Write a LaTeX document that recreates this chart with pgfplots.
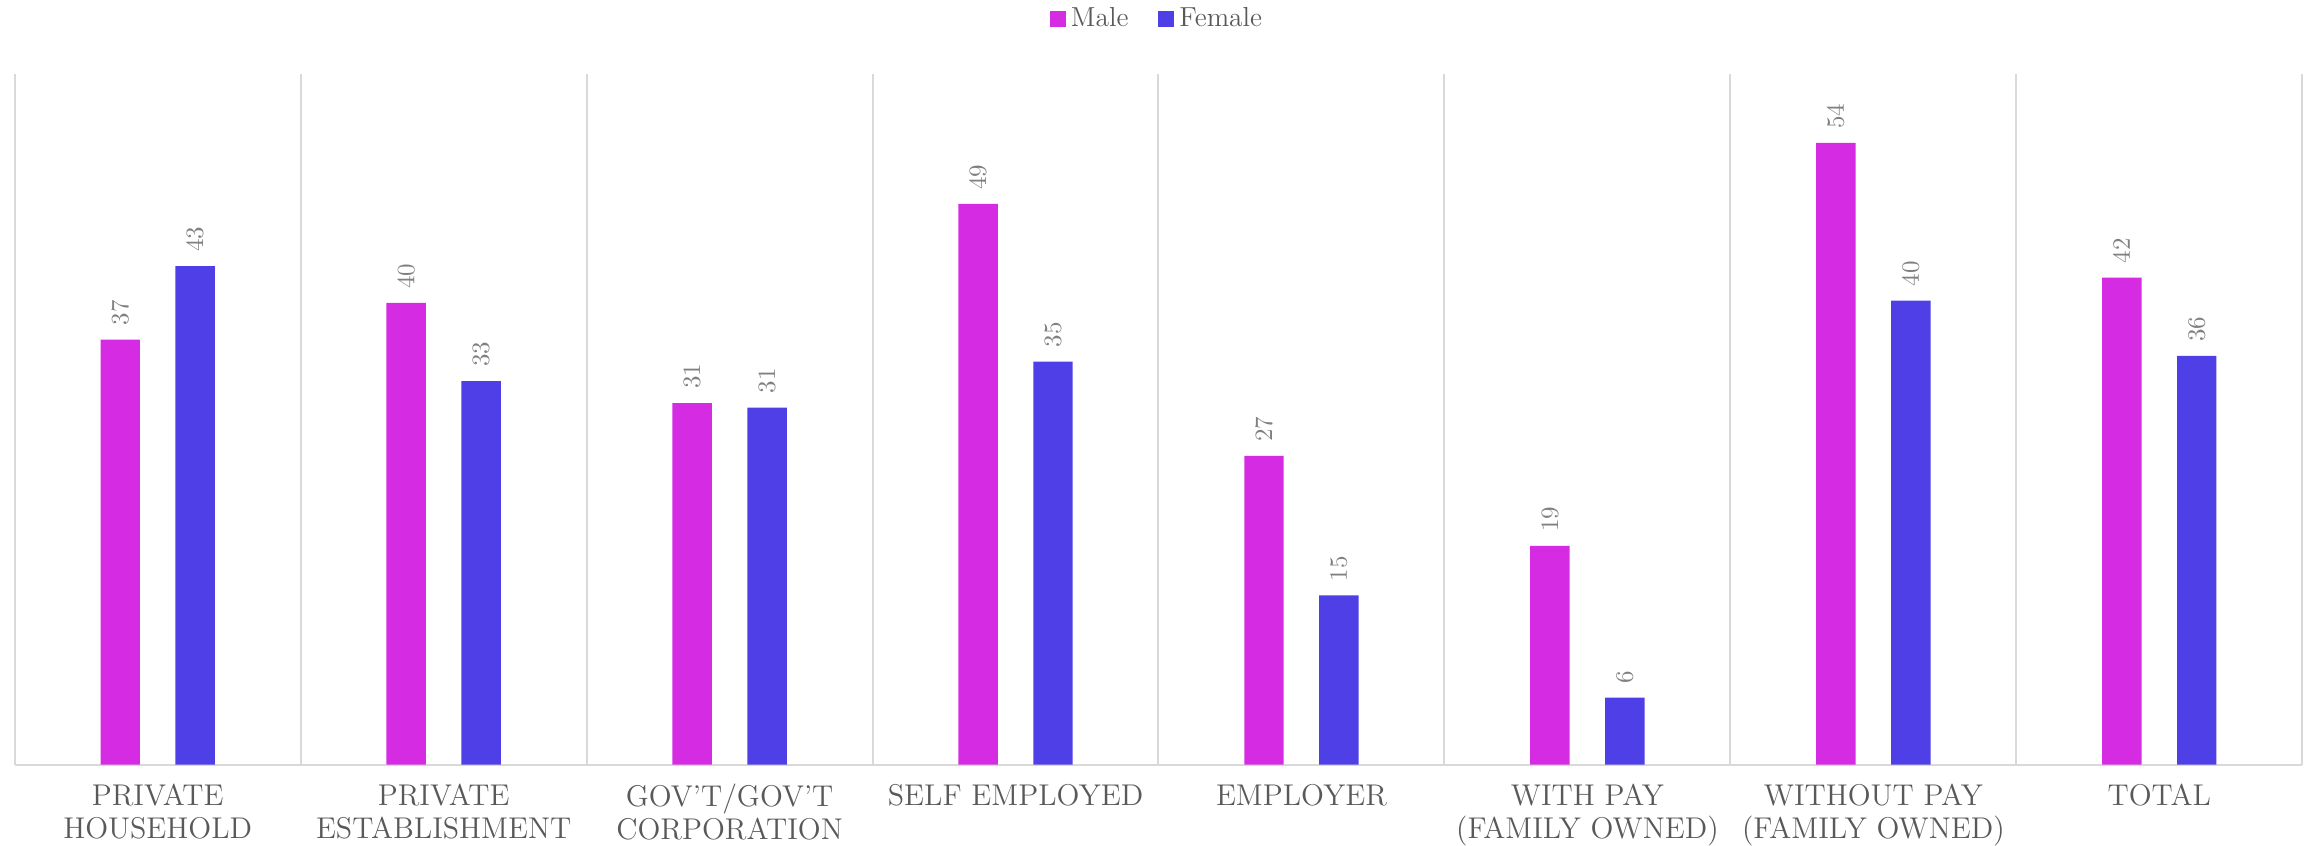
\documentclass[border=0pt]{standalone}
\usepackage{fontspec}
\usepackage{pgfplots}
\pgfplotsset{compat=1.18}
\definecolor{male}{HTML}{D42BE3}
\definecolor{female}{HTML}{4E40E6}
\definecolor{gridc}{HTML}{D9D9D9}
\definecolor{txt}{HTML}{595959}
\definecolor{lbl}{HTML}{808080}
\begin{document}
\begin{tikzpicture}
\useasboundingbox (-5.9pt,-32.2pt) rectangle (918.1pt,305.8pt);
\begin{axis}[
  at={(0,0)}, anchor=south west,
  width=915pt, height=276.3pt, scale only axis,
  ybar, bar width=0.138,
  xmin=-0.5, xmax=7.5, ymin=0, ymax=60,
  xtick={0,...,7},
  xticklabels={PRIVATE\\HOUSEHOLD, PRIVATE\\ESTABLISHMENT, GOV'T/GOV'T\\CORPORATION, SELF EMPLOYED, EMPLOYER, WITH PAY\\(FAMILY OWNED), WITHOUT PAY\\(FAMILY OWNED), TOTAL},
  minor xtick={-0.5,0.5,...,7.5},
  xminorgrids=true,
  minor grid style={draw=gridc, line width=0.8pt},
  major tick length=0pt, minor tick length=0pt,
  ytick=\empty,
  axis y line=none,
  axis x line*=bottom,
  x axis line style={draw=gridc, line width=0.8pt},
  xticklabel style={font=\fontsize{12}{13}\selectfont\addfontfeatures{LetterSpace=4}, text=txt, align=center, anchor=north, yshift=-4.4pt},
  nodes near coords,
  nodes near coords style={rotate=90, anchor=west, inner sep=0pt, inner xsep=5.5pt, font=\fontsize{10}{12}\selectfont, text=lbl, /pgf/number format/fixed, /pgf/number format/precision=0},
  legend style={at={(0.5,1)}, anchor=center, yshift=21.9pt, draw=none, fill=none, legend columns=2, font=\fontsize{11}{13}\selectfont, text=txt, /tikz/every even column/.append style={column sep=10pt}},
  legend image code/.code={\fill[#1] (0pt,-3.2pt) rectangle (6.4pt,3.2pt);},
]
\addplot[fill=male, draw=none, bar shift=-0.131] coordinates {(0,36.9) (1,40.1) (2,31.4) (3,48.7) (4,26.8) (5,19.0) (6,54.0) (7,42.3)};
\addplot[fill=female, draw=none, bar shift=0.131] coordinates {(0,43.3) (1,33.3) (2,31.0) (3,35.0) (4,14.7) (5,5.8) (6,40.3) (7,35.5)};
\legend{Male, Female}
\end{axis}
\end{tikzpicture}
\end{document}
